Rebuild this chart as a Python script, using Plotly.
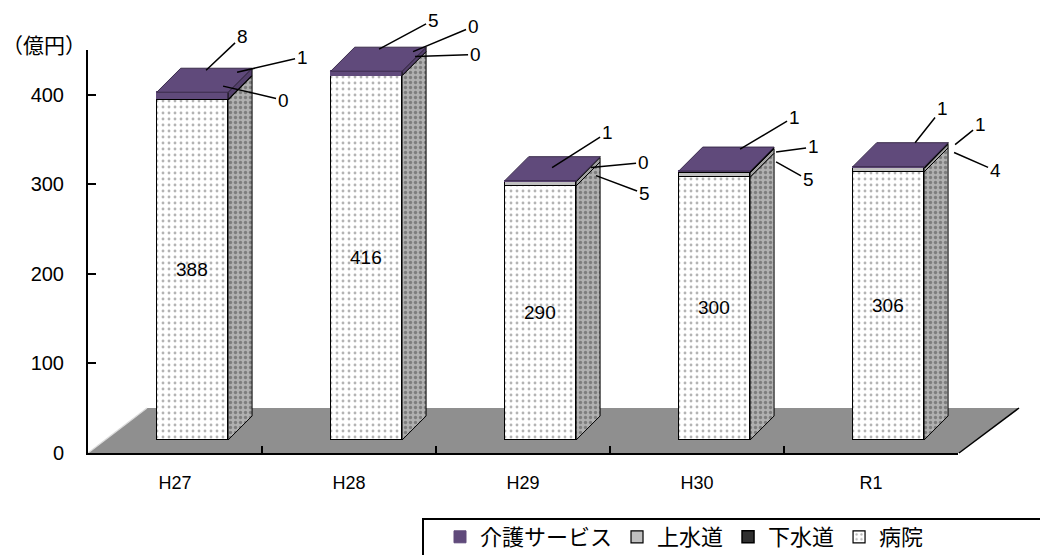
import plotly.graph_objects as go

# ---------------- data ----------------
CATEGORIES = ["H27", "H28", "H29", "H30", "R1"]
HOSPITAL = [388, 416, 290, 300, 306]   # 病院
WATER = [0, 0, 5, 5, 4]                # 上水道
SEWER = [1, 0, 0, 1, 1]                # 下水道
CARE = [8, 5, 1, 1, 1]                 # 介護サービス
Y_TICKS = [0, 100, 200, 300, 400]
UNIT_LABEL = "（億円）"

# ---------------- layout geometry (pixels) ----------------
W, H = 1040, 555
ML, MR, MT, MB = 88, 15, 20, 102
PW, PH = W - ML - MR, H - MT - MB
AX_W, AX_H = 870, 403            # visible axes box
PX_PER_CAT = AX_W / len(CATEGORIES)
BAR_PX_PER_UNIT = 0.876          # perspective scale of the bars
BASE_PY = 440                    # pixel row of bar base
X_MIN = -0.6
X_MAX = X_MIN + PW / PX_PER_CAT
Y_MIN = -((H - MB) - BASE_PY) / BAR_PX_PER_UNIT
Y_MAX = Y_MIN + PH / BAR_PX_PER_UNIT
BAR_W = 0.41
DX = 24 / PX_PER_CAT             # depth of 3D boxes
DY = 24 / BAR_PX_PER_UNIT


def paper_x(px):
    return (px - ML) / PW


def paper_y(py):
    return (H - MB - py) / PH


FONT = "Liberation Sans, Arial, Noto Sans CJK JP"
PURPLE = "#604a7b"

series = [
    dict(name="病院", vals=HOSPITAL, rank=4,
         front=dict(color="white", line=dict(color="black", width=1.2),
                    pattern=dict(shape=".", bgcolor="white", fgcolor="#6a6a6a", size=6, solidity=0.18)),
         side=dict(fillcolor="#ababab",
                   fillpattern=dict(shape=".", bgcolor="#b0b0b0", fgcolor="#4a4a4a", size=5, solidity=0.35))),
    dict(name="上水道", vals=WATER, rank=2,
         front=dict(color="#c0c0c0", line=dict(color="black", width=1.2)),
         side=dict(fillcolor="#a0a0a0")),
    dict(name="下水道", vals=SEWER, rank=3,
         front=dict(color="#303030", line=dict(color="black", width=1.5)),
         side=dict(fillcolor="#202020")),
    dict(name="介護サービス", vals=CARE, rank=1,
         front=dict(color=PURPLE, line=dict(color=PURPLE, width=1)),
         side=dict(fillcolor="#54406c")),
]

fig = go.Figure()
xs = list(range(len(CATEGORIES)))

# front faces
for s in series:
    kw = {}
    if s["name"] == "病院":
        kw = dict(text=[str(v) for v in s["vals"]], textposition="inside",
                  insidetextanchor="middle", textangle=0,
                  textfont=dict(size=19, color="black", family=FONT))
    fig.add_trace(go.Bar(x=xs, y=s["vals"], width=BAR_W, name=s["name"],
                         marker=s["front"], legendrank=s["rank"],
                         hoverinfo="skip", xaxis="x", yaxis="y", **kw))

# side faces and top face
for i in xs:
    xr = i + BAR_W / 2
    xl = i - BAR_W / 2
    b = 0
    for s in series:
        v = s["vals"][i]
        t = b + v
        if v > 0:
            fig.add_trace(go.Scatter(
                x=[xr, xr + DX, xr + DX, xr, xr], y=[b, b + DY, t + DY, t, b],
                fill="toself", mode="lines", line=dict(color="black", width=1),
                showlegend=False, hoverinfo="skip", **s["side"]))
        b = t
    fig.add_trace(go.Scatter(
        x=[xl, xr, xr + DX, xl + DX, xl], y=[b, b, b + DY, b + DY, b],
        fill="toself", fillcolor=PURPLE, mode="lines", line=dict(color="#3a2c4c", width=1),
        showlegend=False, hoverinfo="skip"))

# leader-line labels: (tip dx, tip dy, text dx, text dy) in pixels from the segment's front-top-right corner
LABEL_OFFSETS = {
    "介護サービス": [(-22, -22, 36, -34), (-23, -22, 54, -29), (-24, -13, 55, -35), (-10, -22, 54, -32), (-9, -24, 27, -34)],
    "下水道": [(9, -27, 65, -15), (11, -24, 60, -25), (15, -14, 52, -5), (26, -20, 37, -5), (31, -23, 25, -20)],
    "上水道": [(-5, -14, 60, 14), (13, -19, 60, -2), (20, -6, 48, 18), (26, -11, 32, 18), (30, -16, 41, 18)],
}
annotations = []
for i in xs:
    cum = 0
    for s in series:
        cum += s["vals"][i]
        if s["name"] in LABEL_OFFSETS:
            tdx, tdy, ax, ay = LABEL_OFFSETS[s["name"]][i]
            annotations.append(dict(
                x=i + BAR_W / 2, y=cum, xref="x", yref="y", text=str(s["vals"][i]),
                showarrow=True, arrowhead=0, arrowwidth=1.5, arrowcolor="black",
                ax=ax, ay=ay, axref="pixel", ayref="pixel", xshift=tdx, yshift=-tdy,
                font=dict(size=19, color="black", family=FONT), standoff=0))

annotations.append(dict(
    x=paper_x(44), y=paper_y(44), xref="paper", yref="paper",
    text=UNIT_LABEL, showarrow=False, font=dict(size=21, color="black", family="Noto Sans CJK JP"),
    xanchor="center", yanchor="middle"))

# invisible trace carrying the visible category axis
fig.add_trace(go.Scatter(x=CATEGORIES, y=[0] * len(CATEGORIES), mode="markers",
                         marker=dict(opacity=0), showlegend=False, hoverinfo="skip",
                         xaxis="x2", yaxis="y2"))

# decorative Excel-style 3D floor (drawn beneath the bars)
FLOOR_PX = [(88, 453), (147, 408), (1019, 408), (959, 453)]
floor_path = "M " + " L ".join(f"{paper_x(a)},{paper_y(b)}" for a, b in FLOOR_PX) + " Z"
shapes = [
    dict(type="path", xref="paper", yref="paper", path=floor_path, layer="below",
         fillcolor="#8f8f8f", line=dict(width=0)),
    dict(type="line", xref="paper", yref="paper", layer="below",
         x0=paper_x(959), y0=paper_y(453), x1=paper_x(1019), y1=paper_y(408),
         line=dict(color="black", width=1.5)),
    dict(type="line", xref="paper", yref="paper", layer="below",
         x0=paper_x(88), y0=paper_y(453), x1=paper_x(147), y1=paper_y(408),
         line=dict(color="#dcdcdc", width=1.2)),
    # legend frame
    dict(type="rect", xref="paper", yref="paper",
         x0=paper_x(423), x1=paper_x(W + 10), y0=paper_y(519), y1=paper_y(H + 10),
         line=dict(color="black", width=2), fillcolor="rgba(0,0,0,0)"),
]

fig.update_layout(
    width=W, height=H, margin=dict(l=ML, r=MR, t=MT, b=MB),
    paper_bgcolor="white", plot_bgcolor="rgba(0,0,0,0)",
    barmode="stack", bargap=0,
    font=dict(family=FONT, color="black"),
    xaxis=dict(domain=[0, 1], range=[X_MIN, X_MAX], visible=False, anchor="y", fixedrange=True),
    yaxis=dict(domain=[0, 1], range=[Y_MIN, Y_MAX], visible=False, anchor="x", fixedrange=True),
    xaxis2=dict(domain=[0, AX_W / PW], type="category", categoryarray=CATEGORIES,
                range=[-0.5, len(CATEGORIES) - 0.5], anchor="y2", tickson="boundaries",
                ticks="inside", ticklen=7, tickwidth=1.5, tickcolor="black",
                showline=True, linecolor="black", linewidth=2, showgrid=False,
                tickfont=dict(size=18, family=FONT), ticklabelstandoff=12),
    yaxis2=dict(domain=[0, AX_H / PH], range=[0, 450], anchor="x2", tickvals=Y_TICKS,
                ticks="inside", ticklen=8, tickwidth=1.5, tickcolor="black",
                showline=True, linecolor="black", linewidth=2, showgrid=False, zeroline=False,
                tickfont=dict(size=20, family=FONT), ticklabelstandoff=18),
    legend=dict(orientation="h", xref="container", yref="container",
                x=440 / W, y=1 - 516 / H,
                xanchor="left", yanchor="top", bgcolor="rgba(0,0,0,0)",
                font=dict(size=22, family="Noto Sans CJK JP"), traceorder="normal"),
    annotations=annotations,
    shapes=shapes,
)

fig.write_html("out.html")
